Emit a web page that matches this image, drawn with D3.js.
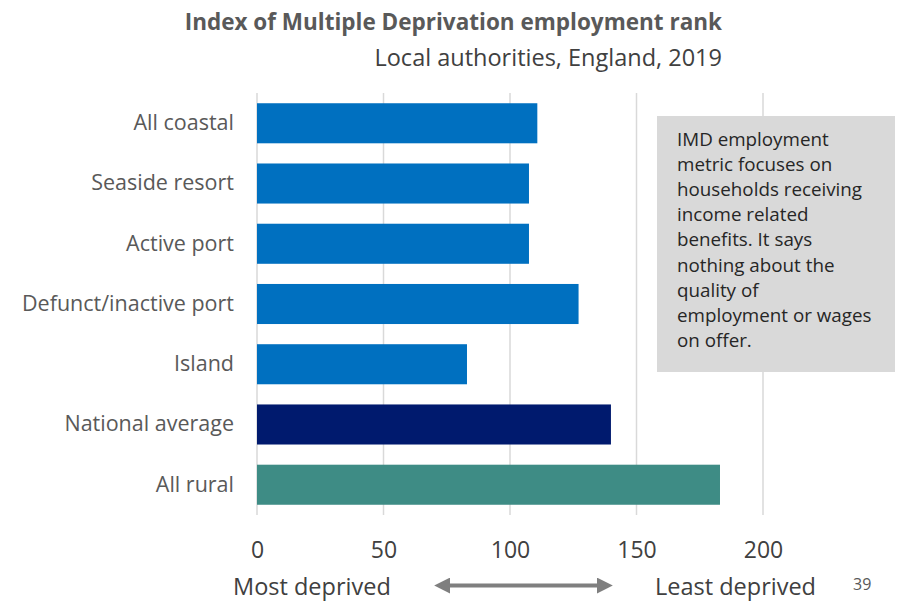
<!DOCTYPE html>
<html lang="en">
	<head>
		<meta charset="utf-8">
		<title>IMD employment rank</title>
		<script type="text/javascript" src="https://cdn.jsdelivr.net/npm/d3@7"></script>
		<style type="text/css">
			body { margin: 0; background: #fff; }
			text { font-family: "Open Sans", Lato, sans-serif; }
		</style>
	</head>
	<body>
		<script type="text/javascript">

			//Width and height
			var w = 903;
			var h = 602;

			var categories = ["All coastal", "Seaside resort", "Active port", "Defunct/inactive port",
							  "Island", "National average", "All rural"];
			var values = [110.8, 107.5, 107.5, 127.1, 83, 139.9, 183];
			var colors = ["#0070C0", "#0070C0", "#0070C0", "#0070C0", "#0070C0", "#001A6E", "#3E8C85"];
			var ticks = [0, 50, 100, 150, 200];
			var noteLines = ["IMD employment", "metric focuses on", "households receiving",
							 "income related", "benefits. It says", "nothing about the",
							 "quality of", "employment or wages", "on offer."];

			var margin = { left: 257, right: 140, top: 93, bottom: 87 };

			var xScale = d3.scaleLinear()
							.domain([0, 200])
							.range([margin.left, margin.left + 506]);

			var yScale = d3.scaleBand()
							.domain(categories)
							.range([margin.top, h - margin.bottom])
							.paddingInner(0.335)
							.paddingOuter(0.17);

			//Create SVG element
			var svg = d3.select("body")
						.append("svg")
						.attr("width", w)
						.attr("height", h);

			//Titles
			svg.append("text")
			   .text("Index of Multiple Deprivation employment rank")
			   .attr("x", 722)
			   .attr("y", 30)
			   .attr("text-anchor", "end")
			   .attr("font-size", "22.5px")
			   .attr("font-weight", "bold")
			   .attr("fill", "#595959");

			svg.append("text")
			   .text("Local authorities, England, 2019")
			   .attr("x", 722)
			   .attr("y", 65.5)
			   .attr("text-anchor", "end")
			   .attr("font-size", "23.5px")
			   .attr("fill", "#404040");

			//Gridlines
			svg.selectAll("line.grid")
			   .data(ticks)
			   .enter()
			   .append("line")
			   .attr("class", "grid")
			   .attr("x1", function(d) { return xScale(d); })
			   .attr("x2", function(d) { return xScale(d); })
			   .attr("y1", margin.top)
			   .attr("y2", h - margin.bottom)
			   .attr("stroke", "#d9d9d9")
			   .attr("stroke-width", 1.5);

			//Note box
			var note = svg.append("g");
			note.append("rect")
				.attr("x", 657)
				.attr("y", 116)
				.attr("width", 238)
				.attr("height", 256)
				.attr("fill", "#d9d9d9");
			note.selectAll("text")
				.data(noteLines)
				.enter()
				.append("text")
				.text(function(d) { return d; })
				.attr("x", 677)
				.attr("y", function(d, i) { return 146 + i * 25.1; })
				.attr("font-size", "18.8px")
				.attr("fill", "#262626");

			//Create bars
			svg.selectAll("rect.bar")
			   .data(values)
			   .enter()
			   .append("rect")
			   .attr("class", "bar")
			   .attr("x", xScale(0))
			   .attr("y", function(d, i) { return yScale(categories[i]); })
			   .attr("width", function(d) { return xScale(d) - xScale(0); })
			   .attr("height", yScale.bandwidth())
			   .attr("fill", function(d, i) { return colors[i]; });

			//Category labels
			svg.append("g")
			   .attr("transform", "translate(" + (margin.left - 10) + ",0)")
			   .call(d3.axisLeft(yScale).tickSize(0).tickPadding(13))
			   .call(function(g) { g.select(".domain").remove(); })
			   .selectAll("text")
			   .attr("font-size", "21.5px")
			   .attr("font-family", "'Open Sans', sans-serif")
			   .attr("fill", "#595959");

			//X axis labels
			svg.append("g")
			   .attr("transform", "translate(0," + (h - margin.bottom + 24) + ")")
			   .call(d3.axisBottom(xScale).tickValues(ticks).tickSize(0))
			   .call(function(g) { g.select(".domain").remove(); })
			   .selectAll("text")
			   .attr("font-size", "23px")
			   .attr("font-family", "'Open Sans', sans-serif")
			   .attr("fill", "#404040");

			//Bottom annotations
			svg.append("text")
			   .text("Most deprived")
			   .attr("x", 233)
			   .attr("y", 595)
			   .attr("font-size", "23.5px")
			   .attr("fill", "#404040");

			svg.append("text")
			   .text("Least deprived")
			   .attr("x", 655)
			   .attr("y", 595)
			   .attr("font-size", "23.5px")
			   .attr("fill", "#404040");

			svg.append("text")
			   .text("39")
			   .attr("x", 853)
			   .attr("y", 590)
			   .attr("font-size", "16px")
			   .attr("fill", "#595959");

			//Double arrow
			var defs = svg.append("defs");
			defs.append("marker")
				.attr("id", "head")
				.attr("viewBox", "0 0 10 10")
				.attr("refX", 2)
				.attr("refY", 5)
				.attr("markerWidth", 4)
				.attr("markerHeight", 4)
				.attr("orient", "auto-start-reverse")
				.append("path")
				.attr("d", "M0,0 L10,5 L0,10 Z")
				.attr("fill", "#7f7f7f");

			svg.append("line")
			   .attr("x1", 447)
			   .attr("x2", 600)
			   .attr("y1", 585.5)
			   .attr("y2", 585.5)
			   .attr("stroke", "#7f7f7f")
			   .attr("stroke-width", 4)
			   .attr("marker-start", "url(#head)")
			   .attr("marker-end", "url(#head)");

		</script>
	</body>
</html>
